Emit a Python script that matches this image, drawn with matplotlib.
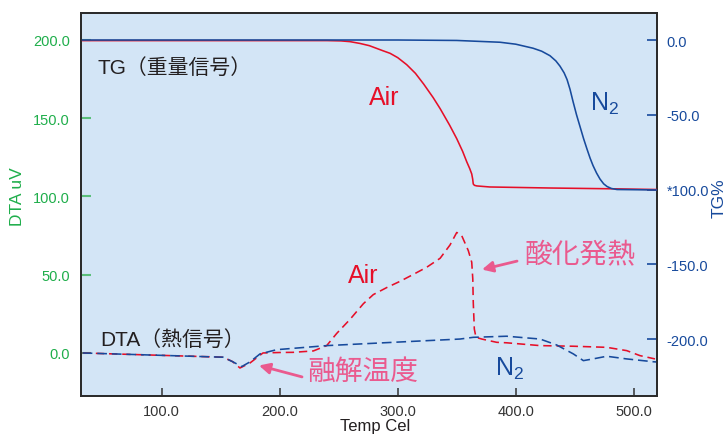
import matplotlib
matplotlib.use("Agg")
import matplotlib.pyplot as plt

plt.rcParams['lines.scale_dashes'] = False

# ---------------- data ----------------
# TG (right axis, %)
tg_air_x = [33, 150, 240, 252, 259.6, 268, 276, 287.5, 293.5, 300, 307.6, 315, 322, 330, 336,
            344, 350, 355, 358.5, 361, 362.7, 363.5, 364, 365, 367, 378, 430, 480, 520]
tg_air_y = [-0.4, -0.4, -0.4, -0.6, -1.1, -2.3, -3.8, -7.2, -8.9, -11.8, -16.5, -22.3, -29.5, -38.5, -46,
            -57, -66, -74.5, -81.5, -86, -89.6, -93, -96.3, -97.2, -97.6, -98.3, -99, -99.5, -100]

tg_n2_x = [33, 300, 350, 386.7, 400, 414.7, 422, 429, 434, 437.5, 441, 443.5, 446, 448.5, 451.5,
           454.5, 457.5, 460.4, 463, 465.5, 468.5, 471.4, 474.5, 477.4, 481, 485.8, 520]
tg_n2_y = [0, 0, -0.3, -1.5, -2.8, -5.5, -7.5, -10.5, -14, -17.5, -22, -26.5, -33, -41, -50,
           -58, -66, -73, -79, -84, -89, -93, -96.2, -98, -99.3, -100, -100.3]

# DTA (left axis, uV)
dta_air_x = [33, 90, 152, 160, 166.3, 174.8, 185.8, 200, 211.3, 228.5, 239.8, 248.3, 259.6, 270.9,
             279.3, 290.7, 302, 313.2, 324.6, 335.9, 344.3, 350, 354.2, 359.8, 362.7, 363.6, 364,
             364.9, 366.3, 371.2, 383.9, 392.3, 420.6, 448.8, 477.1, 494, 505.3, 518]
dta_air_y = [0, -1.3, -2.7, -5.5, -9.6, -6.4, 0, 0.3, 0.4, 1.3, 4.7, 12.5, 21.5, 31.5,
             37.3, 41.8, 45.8, 50.2, 54.8, 60.5, 69, 77, 75, 65.4, 58, 47.3, 32.4,
             15.3, 10, 8.9, 6.8, 6.5, 4.7, 4.3, 3.6, 1.5, -1.7, -3.8]

dta_n2_x = [33, 90, 152, 160.4, 167.8, 174.8, 183.3, 197.4, 239.8, 296, 352.8, 364, 392.3, 420.6,
            434.7, 448.8, 457.3, 465.5, 477.1, 494, 516.4, 520]
dta_n2_y = [0, -1.3, -2.7, -5.7, -8.7, -5.7, -0.6, 2.1, 4.7, 6.8, 8.9, 10, 10.7, 8.9,
            5.1, -0.6, -4.9, -3.8, -2.1, -3.8, -5.6, -5.8]

x_ticks = [100, 200, 300, 400, 500]
x_tick_labels = ["100.0", "200.0", "300.0", "400.0", "500.0"]
dta_ticks = [0, 50, 100, 150, 200]
dta_tick_labels = ["0.0", "50.0", "100.0", "150.0", "200.0"]
tg_ticks = [0, -50, -100, -150, -200]
tg_tick_labels = ["0.0", "-50.0", "*100.0", "-150.0", "-200.0"]

# ---------------- style ----------------
RED = "#e60f28"
BLUE = "#174a9c"
GREEN = "#1fae4b"
PINK = "#ea5a8e"
BG = "#d3e5f6"
DARK = "#231f20"
LAT = "Liberation Sans"
MIX = ["Liberation Sans", "Noto Sans CJK JP"]
CJK = ["Noto Sans CJK JP", "DejaVu Sans"]

fig = plt.figure(figsize=(7.28, 4.35), dpi=100)
ax = fig.add_axes([81 / 728, 1 - 397 / 435, 576 / 728, 383 / 435])
ax.set_facecolor(BG)
ax2 = ax.twinx()

ax.set_xlim(31.6, 519.7)
ax.set_ylim(-27.5, 217.25)
ax2.set_ylim(-238.1, 18.06)

# TG curves
ax2.plot(tg_air_x, tg_air_y, color=RED, lw=1.15, zorder=3)
ax2.plot(tg_n2_x, tg_n2_y, color=BLUE, lw=1.15, zorder=4)

# DTA curves
l1, = ax.plot(dta_air_x, dta_air_y, color=RED, lw=1.15, zorder=3)
l1.set_dashes((6, 3.5))
l2, = ax.plot(dta_n2_x, dta_n2_y, color=BLUE, lw=1.15, zorder=4)
l2.set_dashes((7, 3.5))

# spines
for a in (ax, ax2):
    for s in a.spines.values():
        s.set_color("#2b2b2b")
        s.set_linewidth(1.3)

# ticks
ax.set_xticks(x_ticks)
ax.set_xticklabels(x_tick_labels, fontfamily=LAT, fontsize=10.5, color="#333333")
ax.tick_params(axis='x', direction='in', length=6, width=1.1, color="#333333", pad=6)

ax.set_yticks(dta_ticks)
ax.set_yticklabels(dta_tick_labels, fontfamily=LAT, fontsize=10.5, color=GREEN)
ax.tick_params(axis='y', direction='in', length=7, width=1.5, color="#5bbf7a", pad=8)

ax2.set_yticks(tg_ticks)
ax2.set_yticklabels(tg_tick_labels, fontfamily=LAT, fontsize=10.5, color=BLUE)
ax2.tick_params(axis='y', direction='in', length=7, width=1.2, color=BLUE, pad=7)

# axis labels
fig.text(18 / 728, 1 - 197 / 435, "DTA uV", rotation=90, color=GREEN, fontfamily=LAT,
         fontsize=12.5, ha='center', va='center')
fig.text(719 / 728, 1 - 198 / 435, "TG%", rotation=90, color=BLUE, fontfamily=LAT,
         fontsize=12.5, ha='center', va='center')
fig.text(375 / 728, 1 - 431 / 435, "Temp Cel", color=DARK, fontfamily=LAT,
         fontsize=12, ha='center', va='baseline')

# annotations
ax.text(46, 182.6, "TG（重量信号）", family=MIX, fontsize=15, color=DARK, ha='left', va='center')
ax.text(47.7, 8.9, "DTA（熱信号）", family=MIX, fontsize=15, color=DARK, ha='left', va='center')
ax.text(288.4, 163.5, "Air", fontfamily=LAT, fontsize=18, color=RED, ha='center', va='center')
ax.text(270.6, 49.8, "Air", fontfamily=LAT, fontsize=18, color=RED, ha='center', va='center')
ax.text(475.7, 160.0, r"$\mathregular{N_2}$", fontfamily=LAT, fontsize=18, color=BLUE,
        ha='center', va='center')
ax.text(395.2, -9.5, r"$\mathregular{N_2}$", fontfamily=LAT, fontsize=18, color=BLUE,
        ha='center', va='center')
ax.text(454.5, 63.2, "酸化発熱", family=CJK, fontsize=20, color=PINK, ha='center', va='center')
ax.text(270.6, -11.5, "融解温度", family=CJK, fontsize=20, color=PINK, ha='center', va='center')

arrow = dict(arrowstyle='-|>', color=PINK, lw=2.0, mutation_scale=16, shrinkA=0, shrinkB=0)
ax.annotate("", xy=(371.4, 53.3), xytext=(401.1, 58.7), arrowprops=arrow)
ax.annotate("", xy=(182.4, -8.0), xytext=(218.9, -15.3), arrowprops=arrow)

fig.savefig("out.png", dpi=100, facecolor="white")
